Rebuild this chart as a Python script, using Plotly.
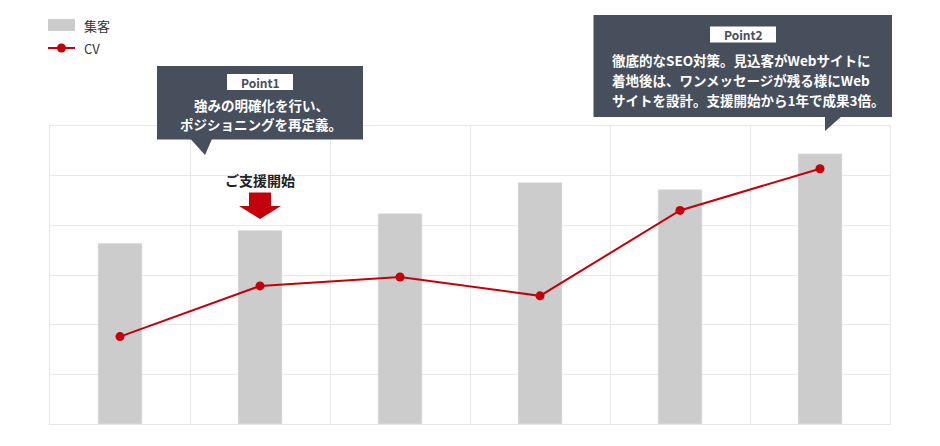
import plotly.graph_objects as go

# data (arbitrary units, axis hidden)
periods = ["期間1", "期間2", "期間3", "期間4", "期間5", "期間6"]
visitors = [182, 195, 212, 243, 236, 272]   # 集客
cv = [88, 139, 148, 129, 215, 257]          # CV

OFF = 8  # the page body margin pushes the figure 8px right and down
W, H = 940 - OFF, 446 - OFF
L, R, T, B = 50 - OFF, 50, 126 - OFF, 22
FONT = "Noto Sans CJK JP"
RED = "#c4000b"
GRAY = "#cccccc"
BOX = "#474f5d"
GRID = "#e8e8e8"


# screen pixel -> paper helpers for the decorations
def px(x):
    return (x - OFF - L) / (W - L - R)


def py(y):
    return (H - B - (y - OFF)) / (H - T - B)


def text(s, x, y, size, color, bold=False, xanchor="center"):
    return dict(text=s, xref="paper", yref="paper", x=px(x), y=py(y),
                xanchor=xanchor, yanchor="middle", showarrow=False,
                font=dict(family=FONT, size=size, color=color,
                          weight="bold" if bold else "normal"))


fig = go.Figure()
fig.add_trace(go.Bar(x=periods, y=visitors, name="集客", marker_color=GRAY,
                     width=0.314, hoverinfo="y"))
fig.add_trace(go.Scatter(x=periods, y=cv, name="CV", mode="lines+markers",
                         line=dict(color=RED, width=2),
                         marker=dict(color=RED, size=9)))

shapes = []
annos = []

# legend drawn by hand
shapes.append(dict(type="rect", xref="paper", yref="paper", x0=px(48), x1=px(75),
                   y0=py(31), y1=py(19), fillcolor=GRAY, line_width=0, layer="above"))
shapes.append(dict(type="line", xref="paper", yref="paper", x0=px(48), x1=px(75),
                   y0=py(48), y1=py(48), line=dict(color=RED, width=2), layer="above"))
shapes.append(dict(type="circle", xref="paper", yref="paper", x0=px(57), x1=px(66),
                   y0=py(52.5), y1=py(43.5), fillcolor=RED, line_width=0, layer="above"))
annos.append(text("集客", 82, 25, 13, "#333333", xanchor="left"))
annos.append(text("CV", 82, 48, 13, "#333333", xanchor="left"))

# Point1 callout
shapes.append(dict(type="rect", xref="paper", yref="paper", x0=px(157), x1=px(363),
                   y0=py(139.5), y1=py(66), fillcolor=BOX, line_width=0, layer="above"))
shapes.append(dict(type="path", xref="paper", yref="paper", layer="above",
                   path=f"M{px(190.5)},{py(139)} L{px(212)},{py(139)} L{px(205)},{py(155)} Z",
                   fillcolor=BOX, line_width=0))
shapes.append(dict(type="rect", xref="paper", yref="paper", x0=px(227), x1=px(293),
                   y0=py(90), y1=py(74), fillcolor="white", line_width=0, layer="above"))
annos.append(text("Point1", 260, 82.5, 12, BOX, bold=True))
annos.append(text("強みの明確化を行い、", 261, 105, 13.5, "white", bold=True))
annos.append(text("ポジショニングを再定義。", 261, 124, 13.5, "white", bold=True))

# Point2 callout
shapes.append(dict(type="rect", xref="paper", yref="paper", x0=px(593.5), x1=px(892),
                   y0=py(117), y1=py(15), fillcolor=BOX, line_width=0, layer="above"))
shapes.append(dict(type="path", xref="paper", yref="paper", layer="above",
                   path=f"M{px(825)},{py(116)} L{px(842)},{py(116)} L{px(825)},{py(131)} Z",
                   fillcolor=BOX, line_width=0))
shapes.append(dict(type="rect", xref="paper", yref="paper", x0=px(710), x1=px(776),
                   y0=py(42.5), y1=py(26.5), fillcolor="white", line_width=0, layer="above"))
annos.append(text("Point2", 743, 34.5, 12, BOX, bold=True))
point2_lines = ["徹底的なSEO対策。見込客がWebサイトに",
                "着地後は、ワンメッセージが残る様にWeb",
                "サイトを設計。支援開始から1年で成果3倍。"]
for line, y in zip(point2_lines, [60, 80, 99.5]):
    annos.append(text(line, 610, y, 13.5, "white", bold=True, xanchor="left"))

# start-of-support marker
annos.append(text("ご支援開始", 260, 180, 14, "#222222", bold=True))
shapes.append(dict(type="path", xref="paper", yref="paper", layer="above",
                   path=(f"M{px(249)},{py(192.5)} L{px(271)},{py(192.5)} L{px(271)},{py(206)} "
                         f"L{px(281)},{py(206)} L{px(260)},{py(219)} L{px(239)},{py(206)} "
                         f"L{px(249)},{py(206)} Z"),
                   fillcolor=RED, line_width=0))

fig.update_layout(
    width=W, height=H,
    margin=dict(l=L, r=R, t=T, b=B),
    paper_bgcolor="white", plot_bgcolor="white",
    font=dict(family=FONT),
    shapes=shapes, annotations=annos,
    showlegend=False,
)
fig.update_xaxes(type="category", tickson="boundaries", showgrid=True, gridcolor=GRID,
                 showticklabels=False, ticks="", showline=True, mirror=True, linecolor=GRID,
                 range=[-0.5, 5.5], fixedrange=True)
fig.update_yaxes(range=[0, 300], dtick=50, showgrid=True, gridcolor=GRID, zeroline=False,
                 showticklabels=False, ticks="", showline=True, mirror=True, linecolor=GRID,
                 fixedrange=True)

fig.write_html("out.html")
